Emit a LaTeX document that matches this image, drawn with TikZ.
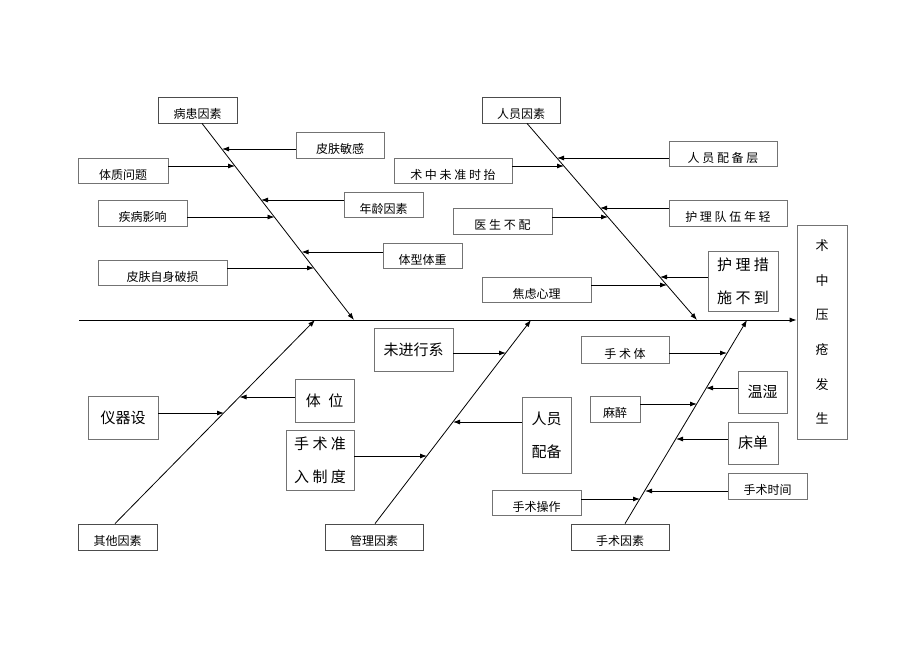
\documentclass[tikz,border=0pt]{standalone}
\usepackage{fontspec}
\setmainfont{Noto Sans CJK SC}
\usetikzlibrary{arrows.meta,calc}
\tikzset{
>={Latex[length=7pt,width=5pt]}, % filled arrow heads
cause/.style={draw=black!55, line width=0.8pt, inner sep=0pt, font=\fontsize{12}{14}\selectfont, text height=17pt, text depth=0pt},
bigcause/.style={draw=black!55, line width=0.8pt, inner sep=0pt, font=\fontsize{15}{33}\selectfont, align=center},
factor/.style={draw=black!70, line width=0.8pt, inner sep=0pt, minimum height=26pt, font=\fontsize{12}{14}\selectfont, text height=17pt, text depth=0pt},
bone/.style={->, line width=0.8pt},
twig/.style={->, line width=0.8pt},
}

\begin{document}
\begin{tikzpicture}[x=1pt,y=-1pt]
\useasboundingbox (0,0) rectangle (920,651);
%Result box
\node[bigcause, font=\fontsize{13}{34.6}\selectfont, minimum width=50pt, minimum height=214pt] (res) at (822,332) {术\\中\\压\\疮\\发\\生};
%Spine
\coordinate (sp) at (79,320);
\draw[bone] (sp) -- (sp -| res.west);

%Factor boxes
\node[factor, minimum width=79pt] (pat) at (197.5,110) {病患因素};
\node[factor, minimum width=78pt] (per) at (521,110) {人员因素};
\node[factor, minimum width=79pt] (oth) at (117.5,537) {其他因素};
\node[factor, minimum width=98pt] (mgt) at (374,537) {管理因素};
\node[factor, minimum width=98pt] (sur) at (620,537) {手术因素};

%Bones
\coordinate (e1) at (354,320);
\coordinate (e2) at (697,320);
\coordinate (e3) at (315,320);
\coordinate (e4) at (531,320);
\coordinate (e5) at (747,320);
\draw[bone] ([xshift=4.5pt]pat.south) -- (e1);
\draw[bone] ([xshift=6pt]per.south) -- (e2);
\draw[bone] ([xshift=-2.5pt]oth.north) -- (e3);
\draw[bone] ([xshift=1pt]mgt.north) -- (e4);
\draw[bone] ([xshift=5pt]sur.north) -- (e5);

%Patient causes
\node[cause, minimum width=88pt, minimum height=26pt] (skin) at (340,145) {皮肤敏感};
\node[cause, minimum width=90pt, minimum height=25pt] (const) at (123,170.5) {体质问题};
\node[cause, minimum width=79pt, minimum height=25pt] (age) at (383.5,204.5) {年龄因素};
\node[cause, minimum width=89pt, minimum height=26pt] (dis) at (142.5,213) {疾病影响};
\node[cause, minimum width=79pt, minimum height=25pt] (body) at (422.5,255.5) {体型体重};
\node[cause, minimum width=129pt, minimum height=25pt] (brk) at (162.5,272.5) {皮肤自身破损};
\coordinate (t11) at (222,149);
\coordinate (t12) at (235,166);
\coordinate (t13) at (261,200);
\coordinate (t14) at (274.5,217);
\coordinate (t15) at (301.6,252);
\coordinate (t16) at (314,268);
\draw[twig] (skin.west |- t11) -- (t11);
\draw[twig] (const.east |- t12) -- (t12);
\draw[twig] (age.west |- t13) -- (t13);
\draw[twig] (dis.east |- t14) -- (t14);
\draw[twig] (body.west |- t15) -- (t15);
\draw[twig] (brk.east |- t16) -- (t16);

%Staff causes
\node[cause, minimum width=108pt, minimum height=25pt] (staff) at (723,153.5) {人 员 配 备 层};
\node[cause, minimum width=118pt, minimum height=25pt] (lift) at (453,170.5) {术 中 未 准 时 抬};
\node[cause, minimum width=118pt, minimum height=26pt] (young) at (728,213) {护 理 队 伍 年 轻};
\node[cause, minimum width=99pt, minimum height=26pt] (doc) at (502.5,221) {医 生 不 配};
\node[bigcause, minimum width=70pt, minimum height=60pt] (care) at (743,281) {护 理 措\\施 不 到};
\node[cause, minimum width=109pt, minimum height=25pt] (anx) at (536.5,289.5) {焦虑心理};
\coordinate (t21) at (557,158);
\coordinate (t22) at (564,166);
\coordinate (t23) at (600,208);
\coordinate (t24) at (608,217);
\coordinate (t25) at (660,277);
\coordinate (t26) at (667,285);
\draw[twig] (staff.west |- t21) -- (t21);
\draw[twig] (lift.east |- t22) -- (t22);
\draw[twig] (young.west |- t23) -- (t23);
\draw[twig] (doc.east |- t24) -- (t24);
\draw[twig] (care.west |- t25) -- (t25);
\draw[twig] (anx.east |- t26) -- (t26);

%Other causes
\node[bigcause, minimum width=70pt, minimum height=43pt] (equip) at (123,417.5) {仪器设};
\node[bigcause, minimum width=59pt, minimum height=43pt] (pos) at (324.5,400.5) {体\enspace 位};
\coordinate (t31) at (224,413);
\coordinate (t32) at (239.5,397);
\draw[twig] (equip.east |- t31) -- (t31);
\draw[twig] (pos.west |- t32) -- (t32);

%Management causes
\node[bigcause, minimum width=68pt, minimum height=60pt] (rule) at (320,460) {手 术 准\\入 制 度};
\node[bigcause, minimum width=79pt, minimum height=43pt] (sys) at (413.5,349.5) {未进行系};
\node[bigcause, minimum width=49pt, minimum height=76pt] (man) at (546.5,435) {人员\\配备};
\coordinate (t41) at (427,456);
\coordinate (t42) at (506,353);
\coordinate (t43) at (453,422);
\draw[twig] (rule.east |- t41) -- (t41);
\draw[twig] (sys.east |- t42) -- (t42);
\draw[twig] (man.west |- t43) -- (t43);

%Surgery causes
\node[cause, minimum width=88pt, minimum height=27pt] (stb) at (625,349.5) {手 术 体};
\node[bigcause, minimum width=49pt, minimum height=42pt] (temp) at (762.5,392) {温湿};
\node[cause, minimum width=50pt, minimum height=26pt] (anes) at (615,409) {麻醉};
\node[bigcause, minimum width=50pt, minimum height=42pt] (sheet) at (753,443) {床单};
\node[cause, minimum width=79pt, minimum height=26pt] (time) at (767.5,486) {手术时间};
\node[cause, minimum width=89pt, minimum height=25pt] (op) at (536.5,502.5) {手术操作};
\coordinate (t51) at (727,353);
\coordinate (t52) at (706,388);
\coordinate (t53) at (697,404);
\coordinate (t54) at (676,439);
\coordinate (t55) at (645,491);
\coordinate (t56) at (640,499);
\draw[twig] (stb.east |- t51) -- (t51);
\draw[twig] (temp.west |- t52) -- (t52);
\draw[twig] (anes.east |- t53) -- (t53);
\draw[twig] (sheet.west |- t54) -- (t54);
\draw[twig] (time.west |- t55) -- (t55);
\draw[twig] (op.east |- t56) -- (t56);
\end{tikzpicture}
\end{document}
